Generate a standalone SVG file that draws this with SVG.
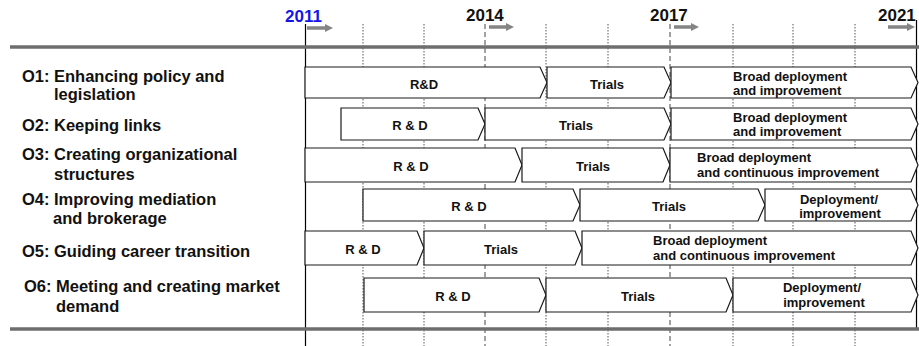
<svg xmlns="http://www.w3.org/2000/svg" width="919" height="346" viewBox="0 0 919 346">
<style>
text{font-family:"Liberation Sans",Arial,sans-serif;font-weight:bold;fill:#111}
.yr{font-size:17px}
.lbl{font-size:16.5px}
.bx{fill:#fff;stroke:#1a1a1a;stroke-width:1.2}
.bt{font-size:13px}
.c{text-anchor:middle}
.dot{stroke:#555;stroke-width:1;stroke-dasharray:1.5 1.5}
.dash{stroke:#444;stroke-width:1;stroke-dasharray:5 3}
.bar{stroke:#6e6e6e;stroke-width:3.5}
.arr{fill:#858585}
</style>
<rect width="919" height="346" fill="#fff"/>
<g id="grid">
<line class="dot" x1="363" y1="24" x2="363" y2="346"/>
<line class="dot" x1="424" y1="24" x2="424" y2="346"/>
<line class="dash" x1="485" y1="24" x2="485" y2="346"/>
<line class="dot" x1="546" y1="24" x2="546" y2="346"/>
<line class="dot" x1="608" y1="24" x2="608" y2="346"/>
<line class="dash" x1="670" y1="24" x2="670" y2="346"/>
<line class="dot" x1="733" y1="24" x2="733" y2="346"/>
<line class="dot" x1="793" y1="24" x2="793" y2="346"/>
<line class="dot" x1="855" y1="24" x2="855" y2="346"/>
<line x1="305.5" y1="24" x2="305.5" y2="346" stroke="#000" stroke-width="1.2"/>
<line x1="916.5" y1="20" x2="916.5" y2="329" stroke="#000" stroke-width="1.2"/>
<line class="bar" x1="10" y1="47" x2="919" y2="47"/>
<line class="bar" x1="10" y1="329" x2="919" y2="329"/>
</g>
<g id="years">
<text class="yr" x="285" y="22" fill="#1010ee" style="fill:#1515e8">2011</text>
<text class="yr" x="466" y="21">2014</text>
<text class="yr" x="650" y="21">2017</text>
<text class="yr" x="878" y="21">2021</text>
<path class="arr" d="M307,26.3 H325 V24 L333,28 L325,32 V29.7 H307 Z"/>
<path class="arr" d="M489,25.3 H506 V23 L514,27 L506,31 V28.7 H489 Z"/>
<path class="arr" d="M674,25.3 H691 V23 L699,27 L691,31 V28.7 H674 Z"/>
<path class="arr" d="M888,25.3 H907 V23 L915,27 L907,31 V28.7 H888 Z"/>
</g>
<g id="labels">
<g id="o1-label"><text class="lbl" x="22" y="82">O1:</text><text class="lbl" x="54" y="82">Enhancing policy and</text><text class="lbl" x="54" y="99.5">legislation</text></g>
<g id="o2-label"><text class="lbl" x="22" y="131">O2:</text><text class="lbl" x="54" y="131">Keeping links</text></g>
<g id="o3-label"><text class="lbl" x="22" y="159.5">O3:</text><text class="lbl" x="54" y="159.5">Creating organizational</text><text class="lbl" x="54" y="179.5">structures</text></g>
<g id="o4-label"><text class="lbl" x="22" y="205">O4:</text><text class="lbl" x="54" y="205">Improving mediation</text><text class="lbl" x="53" y="224">and brokerage</text></g>
<g id="o5-label"><text class="lbl" x="22" y="257">O5:</text><text class="lbl" x="54" y="257">Guiding career transition</text></g>
<g id="o6-label"><text class="lbl" x="24" y="292">O6:</text><text class="lbl" x="56" y="292">Meeting and creating market</text><text class="lbl" x="56" y="312">demand</text></g>
</g>
<g id="row1">
<g id="r1-rd"><path class="bx" d="M305,67 H540 L547,82.5 L540,98 H305 Z"/><text class="bt c" x="424" y="88.5">R&amp;D</text></g>
<g id="r1-trials"><path class="bx" d="M547,67 H664 L671,82.5 L664,98 H547 Z"/><text class="bt c" x="607" y="88.5">Trials</text></g>
<g id="r1-broad"><path class="bx" d="M671,67 H911 L918,82.5 L911,98 H671 Z"/><text class="bt" x="733" y="80.5">Broad deployment</text><text class="bt" x="733" y="95">and improvement</text></g>
</g>
<g id="row2">
<g id="r2-rd"><path class="bx" d="M341,108 H478 L485,124 L478,140 H341 Z"/><text class="bt c" x="410" y="130">R &amp; D</text></g>
<g id="r2-trials"><path class="bx" d="M485,108 H664 L671,124 L664,140 H485 Z"/><text class="bt c" x="576" y="130">Trials</text></g>
<g id="r2-broad"><path class="bx" d="M671,108 H911 L918,124 L911,140 H671 Z"/><text class="bt" x="733" y="121.5">Broad deployment</text><text class="bt" x="733" y="136">and improvement</text></g>
</g>
<g id="row3">
<g id="r3-rd"><path class="bx" d="M305,148 H515 L522,165 L515,182 H305 Z"/><text class="bt c" x="411" y="171">R &amp; D</text></g>
<g id="r3-trials"><path class="bx" d="M522,148 H663 L670,165 L663,182 H522 Z"/><text class="bt c" x="593" y="171">Trials</text></g>
<g id="r3-broad"><path class="bx" d="M670,148 H911 L918,165 L911,182 H670 Z"/><text class="bt" x="697" y="161.5">Broad deployment</text><text class="bt" x="697" y="177">and continuous improvement</text></g>
</g>
<g id="row4">
<g id="r4-rd"><path class="bx" d="M363,189 H573 L580,205 L573,221 H363 Z"/><text class="bt c" x="469" y="211">R &amp; D</text></g>
<g id="r4-trials"><path class="bx" d="M580,189 H758 L765,205 L758,221 H580 Z"/><text class="bt c" x="669" y="211">Trials</text></g>
<g id="r4-deploy"><path class="bx" d="M765,189 H911 L918,205 L911,221 H765 Z"/><text class="bt c" x="839" y="203.5">Deployment/</text><text class="bt c" x="840" y="218">improvement</text></g>
</g>
<g id="row5">
<g id="r5-rd"><path class="bx" d="M305,231 H417 L424,248 L417,265 H305 Z"/><text class="bt c" x="363" y="254">R &amp; D</text></g>
<g id="r5-trials"><path class="bx" d="M424,231 H575 L582,248 L575,265 H424 Z"/><text class="bt c" x="501" y="254">Trials</text></g>
<g id="r5-broad"><path class="bx" d="M582,231 H911 L918,248 L911,265 H582 Z"/><text class="bt" x="653" y="245">Broad deployment</text><text class="bt" x="653" y="260">and continuous improvement</text></g>
</g>
<g id="row6">
<g id="r6-rd"><path class="bx" d="M364,278 H539 L546,295 L539,312 H364 Z"/><text class="bt c" x="453" y="301">R &amp; D</text></g>
<g id="r6-trials"><path class="bx" d="M546,278 H726 L733,295 L726,312 H546 Z"/><text class="bt c" x="638" y="301">Trials</text></g>
<g id="r6-deploy"><path class="bx" d="M733,278 H911 L918,295 L911,312 H733 Z"/><text class="bt c" x="822" y="291.5">Deployment/</text><text class="bt c" x="824" y="306.5">improvement</text></g>
</g>
</svg>
